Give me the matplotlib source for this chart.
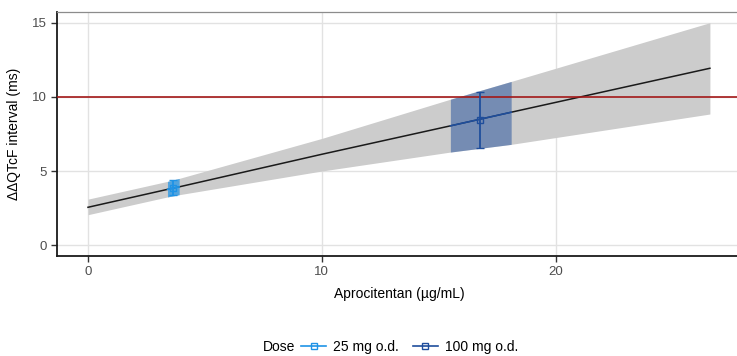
import numpy as np
import matplotlib.pyplot as plt
from matplotlib.lines import Line2D

plt.rcParams['font.family'] = ['Liberation Sans', 'DejaVu Sans']

# Linear exposure-response fit with 90% confidence band
fit_x = [0, 3.4, 3.9, 10, 15.5, 18.1, 26.6]
fit_y = [2.55, 3.76, 3.93, 6.13, 8.05, 8.97, 11.94]
fit_lo = [2.05, 3.25, 3.4, 5.0, 6.28, 6.8, 8.85]
fit_hi = [3.1, 4.3, 4.5, 7.2, 9.85, 11.05, 15.02]

# Observed mean per dose group
doses = ['25 mg o.d.', '100 mg o.d.']
conc_lo = [3.4, 15.5]
conc_hi = [3.9, 18.1]
conc_mean = [3.65, 16.75]
dd_mean = [3.85, 8.45]
dd_lo = [3.4, 6.55]
dd_hi = [4.4, 10.36]
colors = ['#1f93e6', '#1f4e9c']
box_alpha = [0.7, 0.5]

threshold = 10

fig = plt.figure(figsize=(7.37, 3.56), dpi=100)
ax = fig.add_axes([57/737, 100/356, (741-57)/737, 244/356])

fx = np.array(fit_x)
ax.fill_between(fx, fit_lo, fit_hi, color='#cccccc', lw=0, zorder=1)
ax.plot(fx, fit_y, color='#1a1a1a', lw=1.1, zorder=2)
ax.axhline(threshold, color='#a31818', lw=1.2, zorder=3)

for i, dose in enumerate(doses):
    m = (fx >= conc_lo[i]) & (fx <= conc_hi[i])
    ax.fill_between(fx[m], np.array(fit_lo)[m], np.array(fit_hi)[m],
                    color=colors[i], alpha=box_alpha[i], lw=0, zorder=2)
    ax.plot(fx[m], np.array(fit_y)[m], color=colors[i], lw=1.1, zorder=4)
    ax.errorbar(conc_mean[i], dd_mean[i],
                yerr=[[dd_mean[i] - dd_lo[i]], [dd_hi[i] - dd_mean[i]]],
                fmt='s', mfc='none', mec=colors[i], ms=5, mew=1,
                ecolor=colors[i], elinewidth=1.3, capsize=3, capthick=1.3,
                zorder=5)

ax.set_xlim(-1.325, 27.93)
ax.set_ylim(-0.74, 15.74)
ax.set_xticks([0, 10, 20])
ax.set_yticks([0, 5, 10, 15])
ax.grid(True, color='#e2e2e2', lw=1.0)
ax.set_axisbelow(True)
ax.tick_params(length=4, width=1, color='#333333', labelcolor='#4d4d4d', labelsize=9.5)
ax.spines['right'].set_visible(False)
ax.spines['top'].set_color('#8c8c8c')
ax.spines['top'].set_linewidth(0.9)
for s in ['left', 'bottom']:
    ax.spines[s].set_color('#1a1a1a')
    ax.spines[s].set_linewidth(1.3)

ax.set_xlabel('Aprocitentan (\u00b5g/mL)', fontsize=10, labelpad=6)
ax.set_ylabel('\u0394\u0394QTcF interval (ms)', fontsize=10, labelpad=8)

handles = [Line2D([], [], color=c, marker='s', mfc='none', mec=c, ms=5, lw=1.2)
           for c in colors]
fig.text(263/737, 1 - 347/356, 'Dose', fontsize=10, va='center', ha='left')
fig.legend(handles, doses, loc='center left', bbox_to_anchor=(301/737, 1 - 347/356),
           ncol=2, frameon=False, fontsize=10, handlelength=1.8, handletextpad=0.5,
           columnspacing=1.0, borderaxespad=0, borderpad=0)

fig.savefig('out.png', dpi=100)
